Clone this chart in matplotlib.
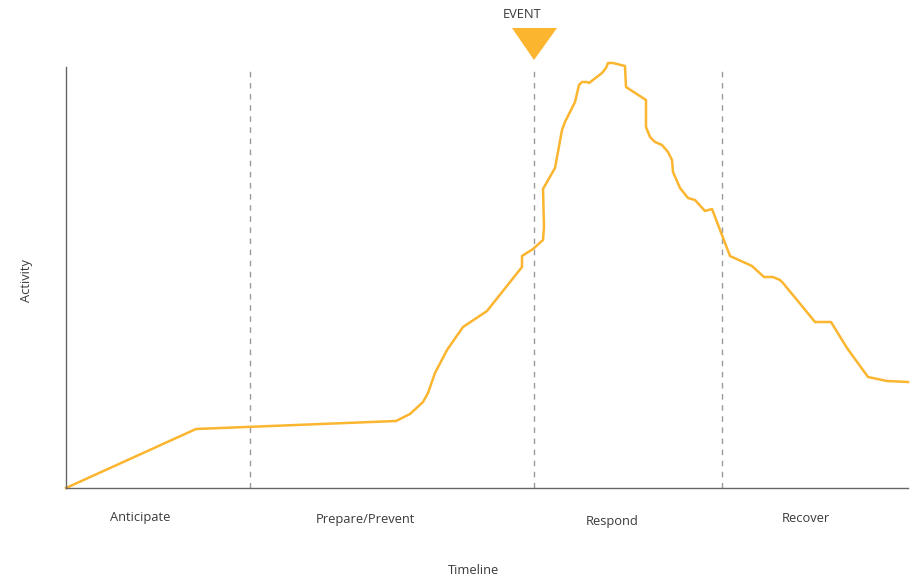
import matplotlib.pyplot as plt

# curve (x: timeline units, y: activity units)
time_x = [0, 130, 330, 344, 357, 362, 369, 381, 397, 421, 456, 456, 467, 477,
          478, 477, 489, 496, 499, 509, 513, 516, 521, 523, 536, 540, 542, 547,
          559, 560, 580, 580, 584, 589, 596, 602, 606, 607, 614, 622, 629, 639,
          646, 664, 686, 698, 707, 714, 717, 731, 749, 765, 781, 802, 821, 842]
activity_y = [0, 59, 67, 74, 86, 95, 115, 138, 161, 177, 221, 232, 239, 248,
              261, 299, 320, 358, 366, 386, 403, 406, 406, 405, 415, 420, 425,
              425, 422, 401, 388, 361, 351, 346, 343, 336, 328, 316, 300, 290,
              288, 277, 279, 232, 222, 211, 211, 208, 205, 188, 166, 166, 140,
              111, 107, 106]

phase_bounds = [184, 468, 656]
event_x = 468
phase_labels = ['Anticipate', 'Prepare/Prevent', 'Respond', 'Recover']
phase_label_x = [74, 299, 546, 740]
phase_label_y = [-30, -32, -34, -30]

plt.rcParams['font.family'] = ['Open Sans', 'DejaVu Sans']

fig = plt.figure(figsize=(9.13, 5.79), dpi=100)
ax = fig.add_axes([66 / 913, 91 / 579, 842 / 913, 421 / 579])

line_color = '#FBB52F'
text_color = '#3a3a3a'
fs = 9.3

for xb in phase_bounds:
    ax.plot([xb, xb], [0, 421], color='#9a9a9a', lw=1, ls=(0, (4, 4)))

ax.plot(time_x, activity_y, color=line_color, lw=1.8, solid_joinstyle='round',
        clip_on=False)

# event marker above the plot
ax.fill([event_x - 22, event_x + 23, event_x], [460, 460, 428],
        color=line_color, clip_on=False, lw=0)
ax.text(event_x - 12, 473, 'EVENT', ha='center', va='center',
        fontsize=fs, color=text_color, clip_on=False)

for lab, lx, ly in zip(phase_labels, phase_label_x, phase_label_y):
    ax.text(lx, ly, lab, ha='center', va='center', fontsize=fs,
            color=text_color, clip_on=False)

ax.text(408, -82, 'Timeline', ha='center', va='center', fontsize=fs,
        color=text_color, clip_on=False)
ax.text(-39, 208, 'Activity', ha='center', va='center', rotation=90,
        fontsize=fs, color=text_color, clip_on=False)

ax.set_xlim(0, 842)
ax.set_ylim(0, 421)
ax.set_xticks([])
ax.set_yticks([])
for s in ['top', 'right']:
    ax.spines[s].set_visible(False)
for s in ['left', 'bottom']:
    ax.spines[s].set_color('#666666')
    ax.spines[s].set_linewidth(1)

fig.savefig('out.png', dpi=100)
